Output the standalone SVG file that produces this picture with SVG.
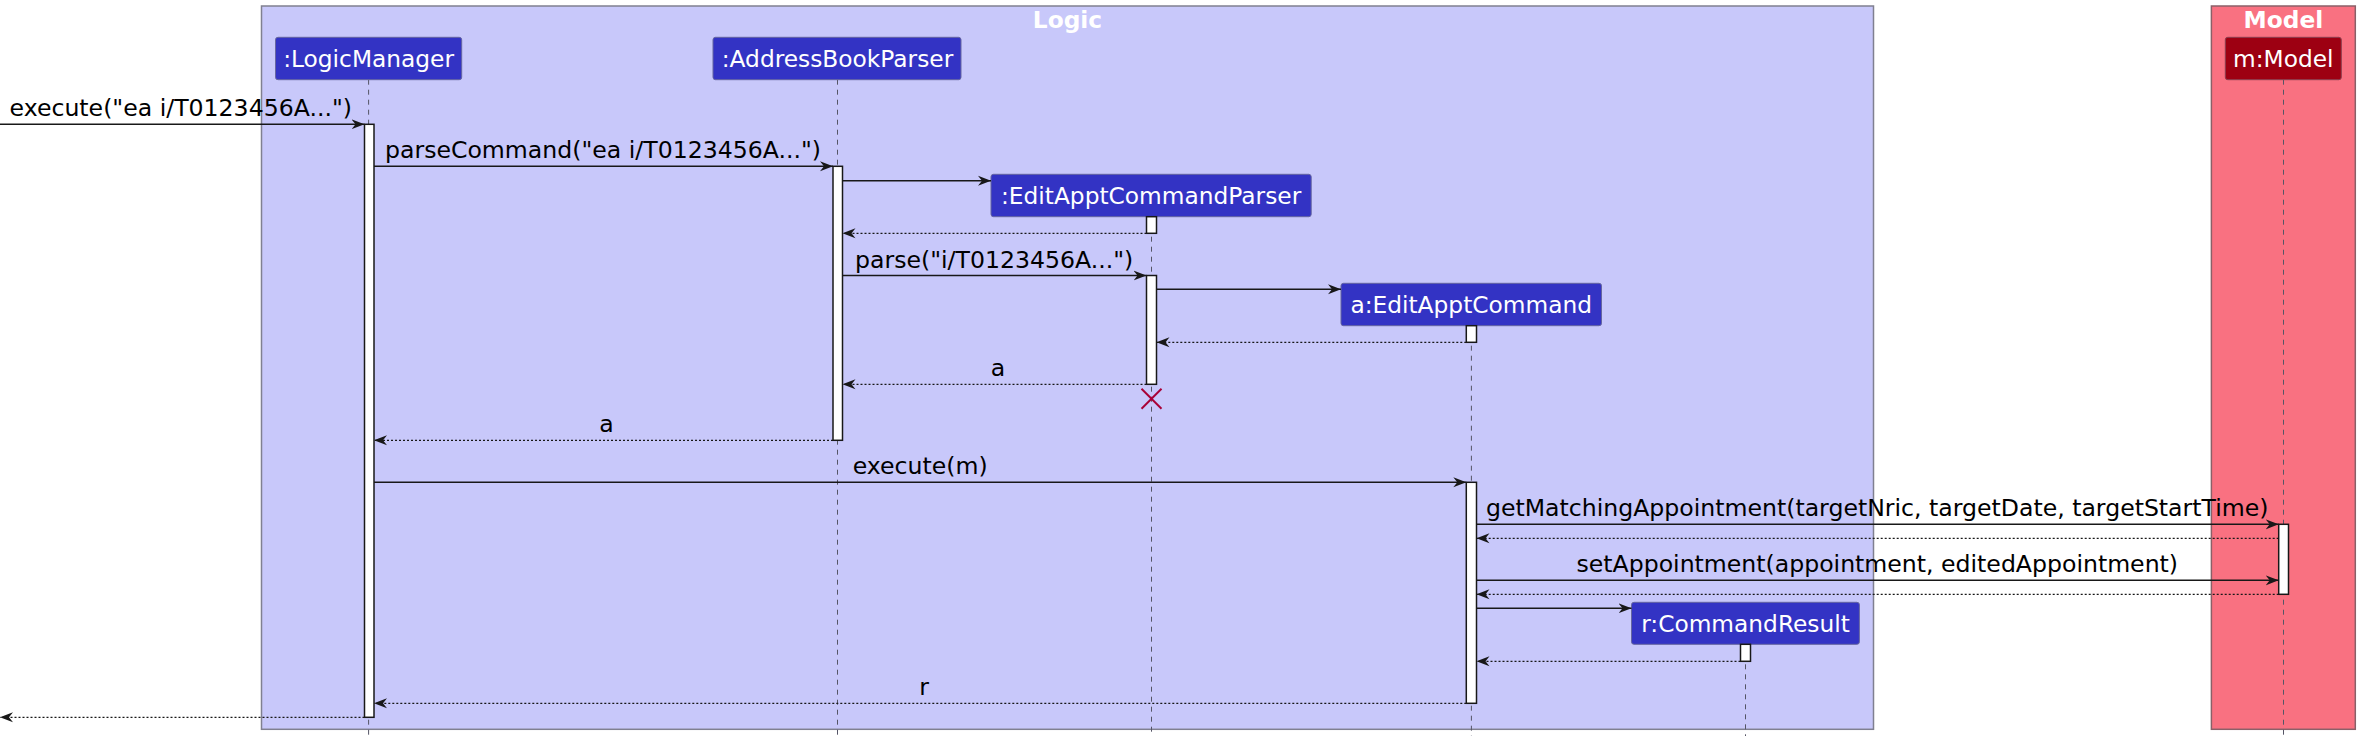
<svg xmlns="http://www.w3.org/2000/svg" width="2360" height="741" viewBox="0 0 2360 741">
<defs>
<marker id="ah" markerWidth="14" markerHeight="12" refX="13" refY="6" orient="auto" markerUnits="userSpaceOnUse"><path d="M0,1 L13,6 L0,11 L4,6 Z" fill="#181818"/></marker>
<style>
.grp-logic{fill:#C8C8FA;stroke:#808090;stroke-width:1.5}
.grp-model{fill:#F97181;stroke:#8A6068;stroke-width:1.5}
.title{font-family:"DejaVu Sans",sans-serif;font-size:23.3px;font-weight:bold;fill:#FFFFFF;text-anchor:middle}
.pbox{fill:#3333C4;stroke:#6666A0;stroke-width:1}
.pbox-m{fill:#9D0012;stroke:#8A4050;stroke-width:1}
.ptext{font-family:"DejaVu Sans",sans-serif;font-size:23.3px;fill:#FFFFFF;text-anchor:middle}
.life{stroke:#555566;stroke-width:1;stroke-dasharray:5,5;fill:none}
.act{fill:#FFFFFF;stroke:#181818;stroke-width:1.5}
.msg{stroke:#181818;stroke-width:1.5;fill:none;marker-end:url(#ah)}
.ret{stroke:#181818;stroke-width:1.3;stroke-dasharray:2,2;fill:none;marker-end:url(#ah)}
.lbl{font-family:"DejaVu Sans",sans-serif;font-size:23.6px;fill:#000000}
.destroy{stroke:#A80036;stroke-width:2}
</style>
</defs>
<rect width="2360" height="741" fill="#FFFFFF"/>
<g id="box-logic">
<rect class="grp-logic" x="261.5" y="6" width="1612" height="723.3"/>
<text class="title" x="1067.5" y="27.8">Logic</text>
</g>
<g id="box-model">
<rect class="grp-model" x="2211.4" y="6" width="143.9" height="723.3"/>
<text class="title" x="2283.4" y="27.8">Model</text>
</g>
<g id="lifelines">
<line class="life" x1="368.6" y1="79.7" x2="368.6" y2="736"/>
<line class="life" x1="837.5" y1="79.7" x2="837.5" y2="736"/>
<line class="life" x1="1151.5" y1="216.7" x2="1151.5" y2="736"/>
<line class="life" x1="1471.4" y1="325.7" x2="1471.4" y2="736"/>
<line class="life" x1="1745.5" y1="644.3" x2="1745.5" y2="736"/>
<line class="life" x1="2283.5" y1="79.7" x2="2283.5" y2="736"/>
</g>
<g id="p-logicmanager">
<rect class="pbox" x="275.5" y="37.3" width="186.2" height="42.4" rx="2.5"/>
<text class="ptext" x="368.6" y="66.7">:LogicManager</text>
<rect class="act" x="364.5" y="124.3" width="9.5" height="593"/>
</g>
<g id="p-addressbookparser">
<rect class="pbox" x="713" y="37.3" width="248" height="42.4" rx="2.5"/>
<text class="ptext" x="837.5" y="66.7">:AddressBookParser</text>
<rect class="act" x="833" y="166.3" width="9.5" height="274"/>
</g>
<g id="p-editapptcommandparser">
<rect class="pbox" x="991" y="174.3" width="320.2" height="42.4" rx="2.5"/>
<text class="ptext" x="1151.1" y="203.7">:EditApptCommandParser</text>
<rect class="act" x="1146.5" y="216.7" width="10" height="16.6"/>
<rect class="act" x="1146.5" y="275.5" width="10" height="108.8"/>
<line class="destroy" x1="1141.5" y1="388.7" x2="1161.5" y2="408.7"/>
<line class="destroy" x1="1161.5" y1="388.7" x2="1141.5" y2="408.7"/>
</g>
<g id="p-editapptcommand">
<rect class="pbox" x="1341" y="283.3" width="260.5" height="42.4" rx="2.5"/>
<text class="ptext" x="1471.2" y="312.7">a:EditApptCommand</text>
<rect class="act" x="1466.3" y="325.7" width="10.2" height="16.6"/>
<rect class="act" x="1466.3" y="482.3" width="10.2" height="221"/>
</g>
<g id="p-commandresult">
<rect class="pbox" x="1631.5" y="602.3" width="227.9" height="42" rx="2.5"/>
<text class="ptext" x="1745.5" y="631.5">r:CommandResult</text>
<rect class="act" x="1740.5" y="644.3" width="10" height="17"/>
</g>
<g id="p-model">
<rect class="pbox-m" x="2225.3" y="37.3" width="116" height="42.4" rx="2.5"/>
<text class="ptext" x="2283.3" y="66.7">m:Model</text>
<rect class="act" x="2278.7" y="524.3" width="9.8" height="70"/>
</g>
<g id="connectors">
<line class="msg" x1="0" y1="124.3" x2="364.5" y2="124.3"/>
<text class="lbl" x="9.6" y="116.3">execute("ea i/T0123456A...")</text>
<line class="msg" x1="374" y1="166.3" x2="833" y2="166.3"/>
<text class="lbl" x="385" y="158.3">parseCommand("ea i/T0123456A...")</text>
<line class="msg" x1="842.5" y1="180.7" x2="991" y2="180.7"/>
<line class="ret" x1="1146.5" y1="233.3" x2="842.5" y2="233.3"/>
<line class="msg" x1="842.5" y1="275.5" x2="1146.5" y2="275.5"/>
<text class="lbl" x="855" y="267.5">parse("i/T0123456A...")</text>
<line class="msg" x1="1156.5" y1="289.3" x2="1341" y2="289.3"/>
<line class="ret" x1="1466.3" y1="342.3" x2="1156.5" y2="342.3"/>
<line class="ret" x1="1146.5" y1="384.3" x2="842.5" y2="384.3"/>
<text class="lbl" x="990.8" y="376.3">a</text>
<line class="ret" x1="833" y1="440.3" x2="374" y2="440.3"/>
<text class="lbl" x="599.3" y="432.3">a</text>
<line class="msg" x1="374" y1="482.3" x2="1466.3" y2="482.3"/>
<text class="lbl" x="852.7" y="474.3">execute(m)</text>
<line class="msg" x1="1476.5" y1="524.3" x2="2278.7" y2="524.3"/>
<text class="lbl" x="1486" y="516.3">getMatchingAppointment(targetNric, targetDate, targetStartTime)</text>
<line class="ret" x1="2278.7" y1="538.3" x2="1476.5" y2="538.3"/>
<line class="msg" x1="1476.5" y1="580.3" x2="2278.7" y2="580.3"/>
<text class="lbl" x="1576.5" y="572.3">setAppointment(appointment, editedAppointment)</text>
<line class="ret" x1="2278.7" y1="594.3" x2="1476.5" y2="594.3"/>
<line class="msg" x1="1476.5" y1="608.3" x2="1631.5" y2="608.3"/>
<line class="ret" x1="1740.5" y1="661.3" x2="1476.5" y2="661.3"/>
<line class="ret" x1="1466.3" y1="703.3" x2="374" y2="703.3"/>
<text class="lbl" x="919.3" y="695.3">r</text>
<line class="ret" x1="364.5" y1="717.3" x2="0" y2="717.3"/>
</g>
</svg>
